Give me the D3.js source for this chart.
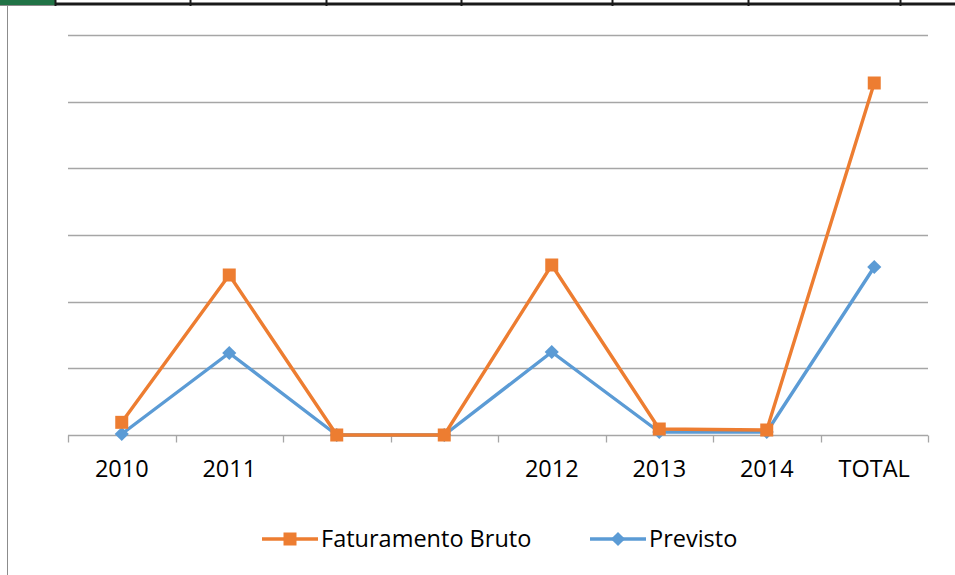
<!DOCTYPE html>
<meta charset="utf-8">
<script src="https://d3js.org/d3.v7.min.js"></script>
<style>
  body { margin: 0; background: #fff; }
  svg { display: block; font-family: "Open Sans", sans-serif; }
</style>
<body>
<div id="chart"></div>
<script>
// data (gridline step = 1 unit)
var categories = ["2010", "2011", "", " ", "2012", "2013", "2014", "TOTAL"];
var faturamento = [0.19, 2.4, 0, 0, 2.55, 0.09, 0.075, 5.28];
var previsto = [0.015, 1.23, 0, 0, 1.245, 0.045, 0.045, 2.52];
var gridTicks = [0, 1, 2, 3, 4, 5, 6];
var sheetCols = [55, 190, 326, 461, 612, 748, 900];

var W = 955, H = 575;
var margin = {top: 35, right: 27, bottom: 140, left: 68};
var width = W - margin.left - margin.right,
    height = H - margin.top - margin.bottom;

var svg = d3.select("#chart").append("svg")
    .attr("width", W).attr("height", H);

// spreadsheet header strip at the top
svg.append("line").attr("x1", 0).attr("x2", W).attr("y1", 4).attr("y2", 4)
    .attr("stroke", "#1a1a1a").attr("stroke-width", 3);
svg.append("rect").attr("x", 0).attr("y", 0).attr("width", sheetCols[0]).attr("height", 5).attr("fill", "#217346");
svg.selectAll(".sc").data(sheetCols).enter().append("line")
    .attr("x1", d => d + 0.5).attr("x2", d => d + 0.5).attr("y1", 0).attr("y2", 6)
    .attr("stroke", "#1a1a1a").attr("stroke-width", 2);
// chart border on the left
svg.append("line").attr("x1", 7.5).attr("x2", 7.5).attr("y1", 6).attr("y2", H)
    .attr("stroke", "#8c8c8c").attr("stroke-width", 1);

var g = svg.append("g").attr("transform", "translate(" + margin.left + "," + margin.top + ")");

var x = d3.scaleBand().domain(categories).range([0, width]);
var y = d3.scaleLinear().domain([0, 6]).range([height, 0]);

// gridlines
g.selectAll(".grid").data(gridTicks.slice(1)).enter().append("line")
    .attr("x1", 0).attr("x2", width)
    .attr("y1", d => Math.round(y(d)) + 0.5).attr("y2", d => Math.round(y(d)) + 0.5)
    .attr("stroke", "#a6a6a6").attr("stroke-width", 1.3);

// x axis
var xAxis = g.append("g").attr("transform", "translate(0," + (height + 0.5) + ")");
xAxis.append("line").attr("x1", 0).attr("x2", width).attr("stroke", "#a6a6a6").attr("stroke-width", 1.3);
var bounds = categories.map(c => x(c)).concat([width]);
xAxis.selectAll(".tk").data(bounds).enter().append("line")
    .attr("x1", d => Math.round(d) + 0.5).attr("x2", d => Math.round(d) + 0.5)
    .attr("y1", 0).attr("y2", 7).attr("stroke", "#a6a6a6").attr("stroke-width", 1.3);
xAxis.selectAll(".lb").data(categories).enter().append("text")
    .attr("x", d => x(d) + x.bandwidth() / 2).attr("y", 41)
    .attr("text-anchor", "middle").attr("font-size", 23.5).attr("fill", "#000")
    .text(d => d.trim());

var line = d3.line().x((d, i) => x(categories[i]) + x.bandwidth() / 2).y(d => y(d));

function drawSeries(vals, color, shape) {
  g.append("path").datum(vals).attr("d", line)
      .attr("fill", "none").attr("stroke", color).attr("stroke-width", 3.4)
      .attr("stroke-linejoin", "round");
  g.selectAll(".m" + shape).data(vals).enter().append("path")
      .attr("transform", (d, i) => "translate(" + (x(categories[i]) + x.bandwidth() / 2) + "," + y(d) + ")" + (shape == "d" ? " rotate(45)" : ""))
      .attr("d", shape == "d" ? d3.symbol(d3.symbolSquare, 100)() : d3.symbol(d3.symbolSquare, 169)())
      .attr("fill", color);
}
drawSeries(previsto, "#5b9bd5", "d");
drawSeries(faturamento, "#ed7d31", "s");

// legend
var legend = svg.append("g").attr("transform", "translate(0,539)");
var items = [
  {name: "Faturamento Bruto", color: "#ed7d31", x: 262, shape: "s"},
  {name: "Previsto", color: "#5b9bd5", x: 590, shape: "d"}
];
items.forEach(function(it) {
  legend.append("line").attr("x1", it.x).attr("x2", it.x + 56).attr("y1", 0).attr("y2", 0)
      .attr("stroke", it.color).attr("stroke-width", 3.4);
  legend.append("path")
      .attr("transform", "translate(" + (it.x + 28) + ",0)" + (it.shape == "d" ? " rotate(45)" : ""))
      .attr("d", it.shape == "d" ? d3.symbol(d3.symbolSquare, 100)() : d3.symbol(d3.symbolSquare, 169)())
      .attr("fill", it.color);
  legend.append("text").attr("x", it.x + 59).attr("y", 7.5)
      .attr("font-size", 23.5).attr("fill", "#000").text(it.name);
});
</script>
</body>
